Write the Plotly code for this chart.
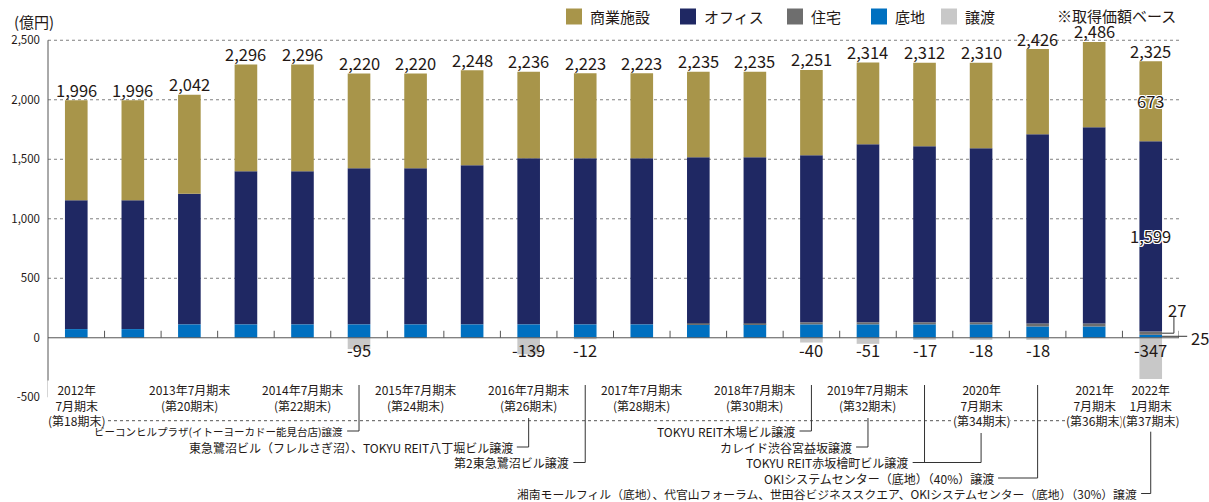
import plotly.graph_objects as go

# ---------------- data ----------------
periods = ["第18期", "第19期", "第20期", "第21期", "第22期", "第23期", "第24期", "第25期",
           "第26期", "第27期", "第28期", "第29期", "第30期", "第31期", "第32期", "第33期",
           "第34期", "第35期", "第36期", "第37期"]
land = [73, 73, 113, 113, 113, 113, 113, 113, 113, 113, 113, 113, 113, 113, 113, 113, 113, 95, 95, 25]
residential = [0, 0, 0, 0, 0, 0, 0, 0, 0, 0, 0, 8, 8, 17, 17, 17, 17, 25, 25, 27]
office = [1082, 1082, 1097, 1286, 1286, 1311, 1311, 1337, 1395, 1395, 1395, 1396, 1396, 1404,
          1496, 1479, 1462, 1590, 1649, 1599]
commercial = [841, 841, 832, 897, 897, 796, 796, 798, 728, 715, 715, 718, 718, 717, 688, 703,
              718, 716, 717, 673]
transfer = [None, None, None, None, None, -95, None, None, -139, -12, None, None, None, -40,
            -51, -17, -18, -18, None, -347]
totals = [1996, 1996, 2042, 2296, 2296, 2220, 2220, 2248, 2236, 2223, 2223, 2235, 2235, 2251,
          2314, 2312, 2310, 2426, 2486, 2325]

y_ticks = [-500, 0, 500, 1000, 1500, 2000, 2500]
y_ticktext = ["-500", "0", "500", "1,000", "1,500", "2,000", "2,500"]

cat_label_idx = [0, 2, 4, 6, 8, 10, 12, 14, 16, 18, 19]
cat_label_text = ["2012年<br>7月期末<br>(第18期末)", "2013年7月期末<br>(第20期末)",
                  "2014年7月期末<br>(第22期末)", "2015年7月期末<br>(第24期末)",
                  "2016年7月期末<br>(第26期末)", "2017年7月期末<br>(第28期末)",
                  "2018年7月期末<br>(第30期末)", "2019年7月期末<br>(第32期末)",
                  "2020年<br>7月期末<br>(第34期末)", "2021年<br>7月期末<br>(第36期末)",
                  "2022年<br>1月期末<br>(第37期末)"]

transfer_notes = ["ビーコンヒルプラザ(イトーヨーカドー能見台店)譲渡",
                  "東急鷺沼ビル（フレルさぎ沼）、TOKYU REIT八丁堀ビル譲渡",
                  "第2東急鷺沼ビル譲渡",
                  "TOKYU REIT木場ビル譲渡",
                  "カレイド渋谷宮益坂譲渡",
                  "TOKYU REIT赤坂檜町ビル譲渡",
                  "OKIシステムセンター（底地）（40%）譲渡",
                  "湘南モールフィル（底地）、代官山フォーラム、世田谷ビジネススクエア、OKIシステムセンター（底地）（30%）譲渡"]
note_sizes = [10.5, 12, 12, 12, 12, 12, 12, 11.8]

series_names = ["商業施設", "オフィス", "住宅", "底地", "譲渡"]
colors = {"商業施設": "#A8954A", "オフィス": "#1F2863", "住宅": "#6E6E6E",
          "底地": "#0070C0", "譲渡": "#C8C8C8"}

FONT = "Noto Sans CJK JP"
TXT = "#231815"
x_idx = list(range(len(periods)))
N = len(periods)

# ---------------- layout geometry ----------------
W, H = 1209, 502
ML, MR, MT, MB = 48, 30, 38, 0
Y_RANGE = [-1380, 2519]
plot_w = W - ML - MR
plot_h = H - MT - MB
k = plot_h / (Y_RANGE[1] - Y_RANGE[0])   # px per unit
y_zero_px = MT + Y_RANGE[1] * k


def v(py):
    """pixel row -> value on y axis"""
    return (y_zero_px - py) / k


def px2paper_x(px):
    return (px - ML) / plot_w


def py2paper_y(py):
    return (H - MB - py) / plot_h


def idx2paper(x):
    return (x + 0.5) / N


def val2paper(y):
    return (y - Y_RANGE[0]) / (Y_RANGE[1] - Y_RANGE[0])


fig = go.Figure()
BW = 0.4
for name, vals in [("底地", land), ("住宅", residential), ("オフィス", office),
                   ("商業施設", commercial), ("譲渡", transfer)]:
    fig.add_trace(go.Bar(x=x_idx, y=vals, name=name, width=BW,
                         marker=dict(color=colors[name], line=dict(width=0)),
                         showlegend=False, hoverinfo="skip"))

shapes = []
annotations = []
LINE = dict(color="#333333", width=1)

# gridlines
for t in y_ticks:
    if t > 0:
        shapes.append(dict(type="line", xref="paper", yref="y", x0=0, x1=1, y0=t, y1=t,
                           line=dict(color="#808080", width=1, dash="dot"), layer="below"))
# y axis line
shapes.append(dict(type="line", xref="paper", yref="y", x0=0, x1=0, y0=min(y_ticks),
                   y1=max(y_ticks), line=dict(color="#555555", width=1)))
# zero line
shapes.append(dict(type="line", xref="paper", yref="y", x0=0, x1=1, y0=0, y1=0,
                   line=dict(color="#555555", width=1)))
# category ticks (upward)
for i in x_idx:
    shapes.append(dict(type="line", xref="x", yref="y", x0=i + 0.5, x1=i + 0.5, y0=0, y1=7 / k,
                       line=dict(color="#555555", width=1)))
# dotted separator under category labels
shapes.append(dict(type="line", xref="paper", yref="y", x0=0, x1=1, y0=v(420.7), y1=v(420.7),
                   line=dict(color="#555555", width=1, dash="dot"), layer="below"))

# total labels
for i, t in zip(x_idx, totals):
    annotations.append(dict(x=i, y=t, xref="x", yref="y", text=f"{t:,}", showarrow=False,
                            yanchor="middle", yshift=10.5, font=dict(family=FONT, size=16.5, color=TXT)))
# transfer labels
for i, t in zip(x_idx, transfer):
    if t is not None:
        annotations.append(dict(x=i, y=v(349.5), xref="x", yref="y", text=f"{t}", showarrow=False,
                                yanchor="middle", font=dict(family=FONT, size=16.5, color=TXT)))

# last bar inner labels
last = N - 1
halo = ("1px 1px 0 #fff, -1px -1px 0 #fff, 1px -1px 0 #fff, -1px 1px 0 #fff, "
        "0 1px 0 #fff, 0 -1px 0 #fff, 1px 0 0 #fff, -1px 0 0 #fff")
base_c = land[last] + residential[last] + office[last]
annotations.append(dict(x=last, y=base_c + commercial[last] / 2, xref="x", yref="y",
                        text=f"{commercial[last]:,}", showarrow=False, yanchor="middle",
                        font=dict(family=FONT, size=16.5, color=TXT, shadow=halo)))
base_o = land[last] + residential[last]
annotations.append(dict(x=last, y=base_o + office[last] / 2, xref="x", yref="y",
                        text=f"{office[last]:,}", showarrow=False, yanchor="middle",
                        font=dict(family=FONT, size=16.5, color=TXT, shadow=halo)))
# 27 (residential) leader
res_mid = land[last] + residential[last] / 2
x_r = last + BW / 2
shapes.append(dict(type="line", xref="x", yref="y", x0=x_r, x1=last + 0.41, y0=res_mid, y1=res_mid, line=LINE))
shapes.append(dict(type="line", xref="x", yref="y", x0=last + 0.41, x1=last + 0.41, y0=res_mid,
                   y1=v(316.7), line=LINE))
annotations.append(dict(x=last + 0.46, y=v(310), xref="x", yref="y", text=f"{residential[last]}",
                        showarrow=False, yanchor="middle", font=dict(family=FONT, size=16.5, color=TXT)))
# 25 (land) leader
land_mid = land[last] / 2
shapes.append(dict(type="line", xref="paper", yref="y", x0=idx2paper(x_r), x1=idx2paper(last + 0.645),
                   y0=land_mid, y1=land_mid, line=LINE))
annotations.append(dict(x=idx2paper(last + 0.67), y=val2paper(0), xref="paper", yref="paper",
                        text=f"{land[last]}", showarrow=False, xanchor="left", yanchor="middle",
                        font=dict(family=FONT, size=16.5, color=TXT)))

# category labels
for i, txt in zip(cat_label_idx, cat_label_text):
    nlines = txt.count("<br>") + 1
    cy = 404.5 if nlines == 3 else 397.5
    annotations.append(dict(x=i, y=v(cy), xref="x", yref="y", text=txt,
                            showarrow=False, yanchor="middle", borderpad=0,
                            bgcolor="white" if nlines == 3 else None,
                            font=dict(family=FONT, size=12, color=TXT)))

# transfer notes with leader lines
rows = [431, 447, 462.5, 478, 493.5]
top_a, top_b, top_c = v(385), v(418), v(433)
leaders = [  # (verticals [(idx, top)], row, horizontal start idx)
    ([(5, top_a)], 0, 5 - 0.21),
    ([(8, top_b)], 1, 8 - 0.21),
    ([(9, top_a)], 2, 9 - 0.21),
    ([(13, top_a)], 0, 13 - 0.21),
    ([(14, top_b)], 1, 14 - 0.21),
    ([(15, top_a), (16, top_c)], 2, 15 - 0.21),
    ([(17, top_a)], 3, 17 - 0.70),
    ([(19, v(431.7))], 4, 19 - 0.17),
]
for (verts, row, hstart), note, fs in zip(leaders, transfer_notes, note_sizes):
    ry = v(rows[row])
    xmax = max(vx for vx, _ in verts)
    for vx, vtop in verts:
        shapes.append(dict(type="line", xref="x", yref="y", x0=vx, x1=vx, y0=vtop, y1=ry, line=LINE))
    shapes.append(dict(type="line", xref="x", yref="y", x0=hstart, x1=xmax, y0=ry, y1=ry, line=LINE))
    annotations.append(dict(x=hstart - 0.04, y=ry, xref="x", yref="y", text=note, showarrow=False,
                            xanchor="right", yanchor="middle",
                            font=dict(family=FONT, size=fs, color=TXT)))

# manual legend
leg_sq_px = [566, 680, 787, 871, 941]
for name, sx in zip(series_names, leg_sq_px):
    shapes.append(dict(type="rect", xref="paper", yref="paper", x0=px2paper_x(sx), x1=px2paper_x(sx + 16),
                       y0=py2paper_y(24.5), y1=py2paper_y(8.5), fillcolor=colors[name], line=dict(width=0)))
    annotations.append(dict(x=px2paper_x(sx + 22), y=py2paper_y(17), xref="paper", yref="paper",
                            text=name, showarrow=False, xanchor="left", yanchor="middle",
                            font=dict(family=FONT, size=15, color=TXT)))
annotations.append(dict(x=px2paper_x(1178), y=py2paper_y(15.5), xref="paper", yref="paper",
                        text="※取得価額ベース", showarrow=False, xanchor="right", yanchor="middle",
                        font=dict(family=FONT, size=15, color=TXT)))
annotations.append(dict(x=px2paper_x(12), y=py2paper_y(21), xref="paper", yref="paper",
                        text="(億円)", showarrow=False, xanchor="left", yanchor="middle",
                        font=dict(family=FONT, size=15, color=TXT)))

fig.update_layout(
    width=W, height=H, barmode="relative",
    margin=dict(l=ML, r=MR, t=MT, b=MB, pad=0),
    paper_bgcolor="white", plot_bgcolor="white",
    font=dict(family=FONT, color=TXT),
    xaxis=dict(range=[-0.5, N - 0.5], showticklabels=False, showgrid=False,
               zeroline=False, showline=False, fixedrange=True),
    yaxis=dict(range=Y_RANGE, tickvals=y_ticks, ticktext=y_ticktext, showgrid=False,
               zeroline=False, showline=False, ticks="", ticklabelstandoff=7,
               tickfont=dict(family=FONT, size=11.5, color=TXT), fixedrange=True),
    shapes=shapes, annotations=annotations, showlegend=False,
)

fig.write_html("out.html", config={"displayModeBar": False})
